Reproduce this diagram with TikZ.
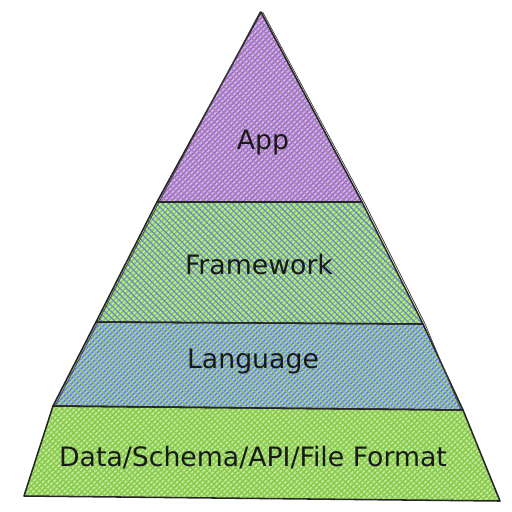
\documentclass[tikz,border=0pt]{standalone}
\usepackage{fontspec}
\setmainfont{DejaVu Sans}
\usetikzlibrary{patterns.meta}

\definecolor{appviolet}{HTML}{A864D8}
\definecolor{lime}{HTML}{86CC45}
\definecolor{indigo}{HTML}{5F82E0}

\tikzset{
  layer/.style={draw=black!85, line width=1.1pt, line join=round},
  sketch/.style={draw=black!75, line width=0.5pt, line join=round},
  layertext/.style={font=\fontsize{19}{22}\selectfont, text=black!90},
}

% hatched fill: path, main colour, cross colour
\newcommand{\hatchfill}[3]{%
  \fill[#2!50] #1;
  \fill[pattern={Lines[angle=45,distance=2.6pt,line width=1.1pt]}, pattern color=#2] #1;
  \fill[pattern={Lines[angle=-45,distance=3.2pt,line width=0.8pt]}, pattern color=#3] #1;
}

\begin{document}
\begin{tikzpicture}[x=0.025cm, y=-0.025cm]
\useasboundingbox (0,0) rectangle (512,512);

% corners of the layers
\coordinate (apex) at (261,12);
\coordinate (app-l) at (157,202);  \coordinate (app-r) at (362,202);
\coordinate (fw-l) at (96,322);    \coordinate (fw-r) at (423,324);
\coordinate (lang-l) at (53,406);  \coordinate (lang-r) at (463,410);
\coordinate (data-l) at (24,496);  \coordinate (data-r) at (500,501);

% fills
\hatchfill{(lang-l) -- (lang-r) -- (data-r) -- (data-l) -- cycle}{lime}{lime}
\hatchfill{(fw-l) -- (fw-r) -- (lang-r) -- (lang-l) -- cycle}{indigo}{lime}
\hatchfill{(app-l) -- (app-r) -- (fw-r) -- (fw-l) -- cycle}{lime}{indigo}
\hatchfill{(apex) -- (app-r) -- (app-l) -- cycle}{appviolet}{lime!40!appviolet}

% outlines
\draw[layer] (lang-l) -- (lang-r) -- (data-r) -- (data-l) -- cycle;
\draw[layer] (fw-l) -- (fw-r) -- (lang-r) -- (lang-l) -- cycle;
\draw[layer] (app-l) -- (app-r) -- (fw-r) -- (fw-l) -- cycle;
\draw[layer] (apex) -- (app-r) -- (app-l) -- cycle;
\draw[sketch] ([xshift=1.2]apex) -- ([xshift=1.5]app-r) -- ([xshift=1.5]fw-r) -- ([xshift=-1.5]lang-r);
\draw[sketch] ([xshift=-0.8]apex) -- ([xshift=1.5]app-l) -- ([xshift=1.5]fw-l) -- ([xshift=1.5]lang-l);

% labels
\node[layertext] (app) at (263,143) {App};
\node[layertext] (framework) at (259,265) {Framework};
\node[layertext] (language) at (253,362) {Language};
\node[layertext] (data) at (253,458) {Data/Schema/API/File Format};

\end{tikzpicture}
\end{document}
